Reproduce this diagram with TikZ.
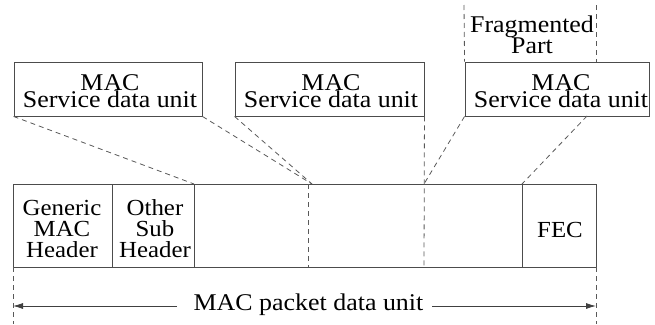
\documentclass[tikz,border=0pt]{standalone}
\usepackage{fontspec}
\setmainfont{Liberation Serif}
\newcommand{\wdr}[1]{\scalebox{1.08}[1]{#1}}
\usetikzlibrary{arrows.meta}
\begin{document}
\begin{tikzpicture}[x=1pt,y=-1pt,
  sdu/.style={draw=black!70, line width=0.9pt, inner sep=0pt, minimum height=54pt},
  frame/.style={draw=black!70, line width=0.9pt},
  dsh/.style={draw=black!65, line width=0.8pt, dash pattern=on 5pt off 4pt},
  txt/.style={align=center, inner sep=0pt, font=\fontsize{24}{17}\selectfont},
  htxt/.style={align=center, inner sep=0pt, font=\fontsize{23}{21}\selectfont},
  arr/.style={draw=black!75, line width=0.8pt, -{Latex[length=10pt,width=6pt]}}]
\useasboundingbox (0,0) rectangle (655,324);

% upper SDU boxes
\node[sdu, minimum width=188pt] (b1) at (108,89) {};
\node[sdu, minimum width=189pt] (b2) at (329.5,89) {};
\node[sdu, minimum width=184pt] (b3) at (557,89) {};
\node[txt] (t1) at (110,91.5) {\wdr{MAC}\\\wdr{Service data unit}};
\node[txt] (t2) at (331,91.5) {\wdr{MAC}\\\wdr{Service data unit}};
\node[txt] (t3) at (561,91.5) {\wdr{MAC}\\\wdr{Service data unit}};

% fragmented part
\node[txt, font=\fontsize{24}{21}\selectfont] (fp) at (532,34.3) {\wdr{Fragmented}\\\wdr{Part}};
\coordinate (f1) at (464,5);
\coordinate (f2) at (596,5);
\coordinate (f2b) at (596,62);
\draw[dsh] (f1) -- (b3.north west);
\draw[dsh] (f2) -- (f2b);

% packet frame
\coordinate (p1) at (13,184);
\coordinate (p2) at (596,267);
\coordinate (d1) at (112,184);
\coordinate (d1b) at (112,267);
\coordinate (d2) at (194,184);
\coordinate (d2b) at (194,267);
\coordinate (d3) at (522,184);
\coordinate (d3b) at (522,267);
\coordinate (m1) at (312,184);
\coordinate (v1) at (308,184);
\coordinate (v1b) at (308,267);
\coordinate (v2) at (424,184);
\coordinate (v2b) at (424,267);
\draw[frame] (p1) rectangle (p2);
\draw[frame] (d1) -- (d1b);
\draw[frame] (d2) -- (d2b);
\draw[frame] (d3) -- (d3b);

\node[htxt] (gmh) at (62,229) {\wdr{Generic}\\\wdr{MAC}\\\wdr{Header}};
\node[htxt] (osh) at (155,229) {\wdr{Other}\\\wdr{Sub}\\\wdr{Header}};
\node[htxt] (fec) at (560,230) {\wdr{FEC}};

% mapping lines
\coordinate (b3r) at (587,116);
\draw[dsh] (b1.south west) -- (d2);
\draw[dsh] (b1.south east) -- (m1);
\draw[dsh] (b2.south west) -- (m1);
\draw[dsh] (v1) -- (v1b);
\draw[dsh] (b2.south east) -- (v2b);
\draw[dsh] (b3.south west) -- (v2);
\draw[dsh] (b3r) -- (d3);

% PDU dimension
\coordinate (l1) at (13,267);
\coordinate (l2) at (13,324);
\coordinate (r1) at (596,267);
\coordinate (r2) at (596,324);
\draw[dsh] (l1) -- (l2);
\draw[dsh] (r1) -- (r2);
\node[txt] (pdu) at (308.5,304.4) {\wdr{MAC packet data unit}};
\coordinate (al) at (13,306);
\coordinate (ar) at (596,306);
\coordinate (as1) at (177,306);
\coordinate (as2) at (432,306);
\draw[arr] (as1) -- (al);
\draw[arr] (as2) -- (ar);
\end{tikzpicture}
\end{document}
